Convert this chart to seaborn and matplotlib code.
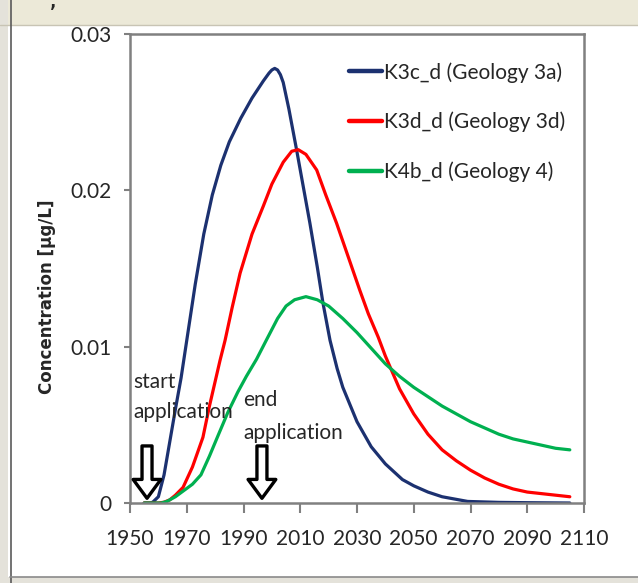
import matplotlib
matplotlib.use("Agg")
import matplotlib.pyplot as plt
import seaborn as sns
import pandas as pd
from matplotlib.lines import Line2D
from matplotlib.patches import Rectangle

# ---- data ----
blue_years = [1955, 1957, 1958, 1960, 1962, 1964, 1966, 1968, 1970, 1973, 1976, 1979, 1982, 1985, 1989,
              1993, 1997, 1999, 2000, 2001, 2002, 2003, 2004, 2006, 2008.7, 2011, 2013.4, 2016, 2018, 2020.5,
              2023, 2025, 2030, 2035, 2040, 2046, 2050, 2055, 2060, 2069, 2080, 2090, 2105]
blue_vals = [0, 0, 0.00005, 0.0004, 0.0018, 0.0039, 0.0060, 0.0080, 0.0104, 0.0140, 0.0172, 0.0197, 0.0216,
             0.0231, 0.0246, 0.0259, 0.0270, 0.0275, 0.0277, 0.0278, 0.0277, 0.0274, 0.0269, 0.0252, 0.0226,
             0.0203, 0.0179, 0.0151, 0.0128, 0.0104, 0.0086, 0.0074, 0.0052, 0.0036, 0.0025, 0.0015, 0.0011,
             0.0007, 0.0004, 0.0001, 0.00004, 0.00002, 0]

red_years = [1955, 1960, 1962, 1964, 1966, 1968.7, 1972, 1975.7, 1978, 1981.7, 1983.5, 1986, 1988.8, 1993,
             1997, 2000, 2004, 2007, 2009.3, 2012, 2015.8, 2019, 2022.8, 2027, 2031, 2034, 2037.5, 2040,
             2045, 2050, 2055, 2060, 2065, 2070, 2075, 2080, 2085, 2090, 2095, 2100, 2105]
red_vals = [0, 0, 0.00005, 0.0002, 0.0005, 0.0010, 0.0023, 0.0042, 0.0062, 0.0091, 0.0104, 0.0125, 0.0147,
            0.0172, 0.0190, 0.0204, 0.0218, 0.0225, 0.0226, 0.0223, 0.0213, 0.0197, 0.0179, 0.0157, 0.0136,
            0.0121, 0.0106, 0.0094, 0.0073, 0.0057, 0.0044, 0.0034, 0.0027, 0.0021, 0.0016, 0.0012, 0.0009,
            0.0007, 0.0006, 0.0005, 0.0004]

green_years = [1955, 1961, 1963, 1966, 1969, 1972, 1975, 1978, 1981, 1984.5, 1988, 1991, 1994.6, 1998, 2002,
               2005, 2008, 2012, 2016, 2020, 2025, 2030, 2035, 2040, 2045, 2050, 2055, 2060, 2065, 2070,
               2075, 2080, 2085, 2090, 2095, 2100, 2105]
green_vals = [0, 0, 0.0001, 0.0004, 0.0008, 0.0012, 0.0018, 0.0030, 0.0043, 0.0058, 0.0071, 0.0081, 0.0092,
              0.0104, 0.0118, 0.0126, 0.0130, 0.0132, 0.0130, 0.0126, 0.0118, 0.0109, 0.0099, 0.0089, 0.0081,
              0.0074, 0.0068, 0.0062, 0.0057, 0.0052, 0.0048, 0.0044, 0.0041, 0.0039, 0.0037, 0.0035, 0.0034]

series_names = ["K3c_d (Geology 3a)", "K3d_d (Geology 3d)", "K4b_d (Geology 4)"]
series_colors = ["#1c3170", "#ff0000", "#00b050"]

x_ticks = [1950, 1970, 1990, 2010, 2030, 2050, 2070, 2090, 2110]
y_ticks = [0, 0.01, 0.02, 0.03]
y_ticklabels = ["0", "0.01", "0.02", "0.03"]

start_year, end_year = 1956, 1996.5

df = pd.concat([
    pd.DataFrame({"year": blue_years, "conc": blue_vals, "series": series_names[0]}),
    pd.DataFrame({"year": red_years, "conc": red_vals, "series": series_names[1]}),
    pd.DataFrame({"year": green_years, "conc": green_vals, "series": series_names[2]}),
])

sns.set_style("white")
plt.rcParams["font.family"] = ["Lato", "DejaVu Sans"]

W, H = 638, 583
fig = plt.figure(figsize=(W / 100, H / 100), dpi=100)
fig.patch.set_facecolor("white")

# window-like frame of the screenshot
fig.add_artist(Rectangle((0, 1 - 25 / H), 1, 25 / H, transform=fig.transFigure, facecolor="#ece9d8",
                         edgecolor="none", zorder=0))
fig.add_artist(Line2D([0, 1], [1 - 25 / H, 1 - 25 / H], transform=fig.transFigure, color="#c8c4b4", lw=1))
fig.add_artist(Rectangle((0, 0), 8 / W, 1, transform=fig.transFigure, facecolor="#e4e2da",
                         edgecolor="none", zorder=0))
fig.add_artist(Line2D([10.5 / W, 10.5 / W], [0, 1], transform=fig.transFigure, color="#5a5a5a", lw=1.2))
fig.add_artist(Rectangle((0, 0), 1, 6 / H, transform=fig.transFigure, facecolor="#e4e2da",
                         edgecolor="none", zorder=0))
fig.add_artist(Line2D([10 / W, 1], [6.5 / H, 6.5 / H], transform=fig.transFigure, color="#8a8a8a", lw=1.2))
fig.text(53 / W, 1 - 12 / H, "\u2019", fontsize=12, fontweight="bold", ha="center", va="center",
         family="DejaVu Sans")

ax = fig.add_axes([130 / W, 80 / H, 454 / W, 469 / H])
sns.lineplot(data=df, x="year", y="conc", hue="series", hue_order=series_names,
             palette=series_colors, linewidth=2.3, ax=ax, legend=False, estimator=None, sort=False)

ax.set_xlim(1950, 2110)
ax.set_ylim(0, 0.03)
ax.set_xticks(x_ticks)
ax.set_xticklabels([str(t) for t in x_ticks])
ax.set_yticks(y_ticks)
ax.set_yticklabels(y_ticklabels)
ax.set_xlabel("")
ax.set_ylabel("")
for s in ax.spines.values():
    s.set_visible(True)
    s.set_color("#808080")
    s.set_linewidth(1.8)
ax.tick_params(axis="x", direction="out", length=7, width=1.5, color="#808080", labelsize=15, pad=12)
ax.tick_params(axis="y", direction="out", length=4, width=1.5, color="#808080", labelsize=15, pad=9)
ax.xaxis.set_ticks_position("bottom")
ax.yaxis.set_ticks_position("left")

fig.text(47 / W, 1 - 297 / H, "Concentration [\u00b5g/L]", rotation=90, fontsize=12, fontweight="bold",
         ha="center", va="center", family="DejaVu Sans")

# legend
handles = [Line2D([], [], color=c, lw=3.2) for c in series_colors]
ax.legend(handles, series_names, loc="upper left", bbox_to_anchor=(349 / W, 1 - 62 / H),
          bbox_transform=fig.transFigure, frameon=False, fontsize=15, handlelength=1.6,
          handletextpad=0.1, labelspacing=1.4, borderpad=0, borderaxespad=0)

# annotations
txt_kw = dict(fontsize=15, ha="left", va="center")
ax.text(1951.05, 0.00774, "start", **txt_kw)
ax.text(1951.05, 0.00582, "application", **txt_kw)
ax.text(1989.8, 0.00659, "end", **txt_kw)
ax.text(1989.8, 0.00445, "application", **txt_kw)
arrow_style = "simple,head_length=0.68,head_width=1.0,tail_width=0.36"
for yr in (start_year, end_year):
    ax.annotate("", xy=(yr, 0.0003), xytext=(yr, 0.00365),
                arrowprops=dict(arrowstyle=arrow_style, mutation_scale=20, fc="white", ec="black",
                                lw=2.4, shrinkA=0, shrinkB=0))

fig.savefig("out.png", dpi=100)
